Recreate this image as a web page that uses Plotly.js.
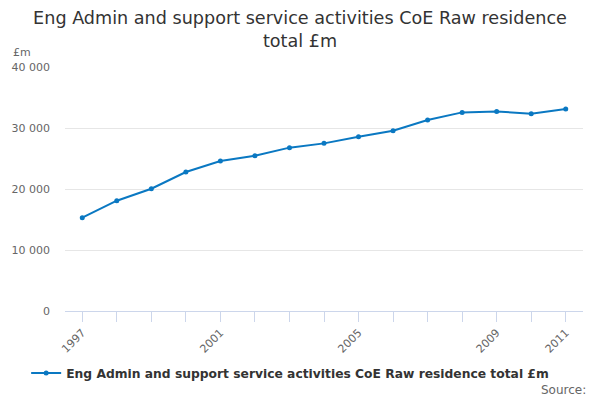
<!DOCTYPE html>
<html>
<head>
<meta charset="utf-8">
<script src="https://cdn.plot.ly/plotly-3.0.1.min.js"></script>
<style>html,body{margin:0;padding:0;}#chart{width:600px;height:400px;}</style>
</head>
<body>
<div id="chart"></div>
<script>
// values, £m
var years = [1997, 1998, 1999, 2000, 2001, 2002, 2003, 2004, 2005, 2006, 2007, 2008, 2009, 2010, 2011];
var values = [15300, 18080, 20050, 22790, 24590, 25460, 26780, 27480, 28570, 29560, 31310, 32560, 32720, 32340, 33120];
var yearLabels = ['1997', '', '', '', '2001', '', '', '', '2005', '', '', '', '2009', '', '2011'];
var seriesName = 'Eng Admin and support service activities CoE Raw residence total £m';

var font = 'DejaVu Sans, Verdana, sans-serif';

var trace = {
  x: years,
  y: values,
  name: seriesName,
  type: 'scatter',
  mode: 'lines+markers',
  line: {color: '#0a78c2', width: 2},
  marker: {color: '#0a78c2', size: 5}
};

var layout = {
  width: 600,
  height: 400,
  margin: {l: 65, r: 17, t: 67, b: 89},
  paper_bgcolor: '#ffffff',
  plot_bgcolor: '#ffffff',
  separators: '. ',
  font: {family: font, color: '#666666', size: 11},
  title: {
    text: 'Eng Admin and support service activities CoE Raw residence<br>total £m',
    font: {family: font, size: 17.6, color: '#333333'},
    x: 0.5, xanchor: 'center',
    y: 0.94, yanchor: 'top', yref: 'container'
  },
  xaxis: {
    range: [1996.5, 2011.5],
    tickmode: 'array',
    tickvals: years,
    ticktext: yearLabels,
    tickangle: -45,
    ticks: 'outside',
    ticklen: 10,
    tickcolor: '#ccd6eb',
    showline: true,
    linecolor: '#ccd6eb',
    showgrid: false,
    zeroline: false,
    tickfont: {family: font, size: 11, color: '#666666'}
  },
  yaxis: {
    range: [0, 40000],
    dtick: 10000,
    tickformat: ',d',
    showgrid: true,
    gridcolor: '#e6e6e6',
    zeroline: false,
    showline: false,
    ticklabelstandoff: 14,
    tickfont: {family: font, size: 11, color: '#666666'}
  },
  showlegend: true,
  legend: {
    orientation: 'h',
    x: -0.075, xanchor: 'left',
    y: -0.254, yanchor: 'middle',
    font: {family: font, size: 12.3, color: '#333333', weight: 'bold'}
  },
  annotations: [
    {
      text: '£m', xref: 'paper', yref: 'paper',
      x: -0.104, y: 1.061, xanchor: 'left', yanchor: 'middle',
      showarrow: false, font: {family: font, size: 11, color: '#666666'}
    },
    {
      text: 'Source:', xref: 'paper', yref: 'paper',
      x: 1.01, y: -0.324, xanchor: 'right', yanchor: 'middle',
      showarrow: false, font: {family: font, size: 12, color: '#666666'}
    }
  ]
};

Plotly.newPlot('chart', [trace], layout, {displayModeBar: false, staticPlot: true});
</script>
</body>
</html>
